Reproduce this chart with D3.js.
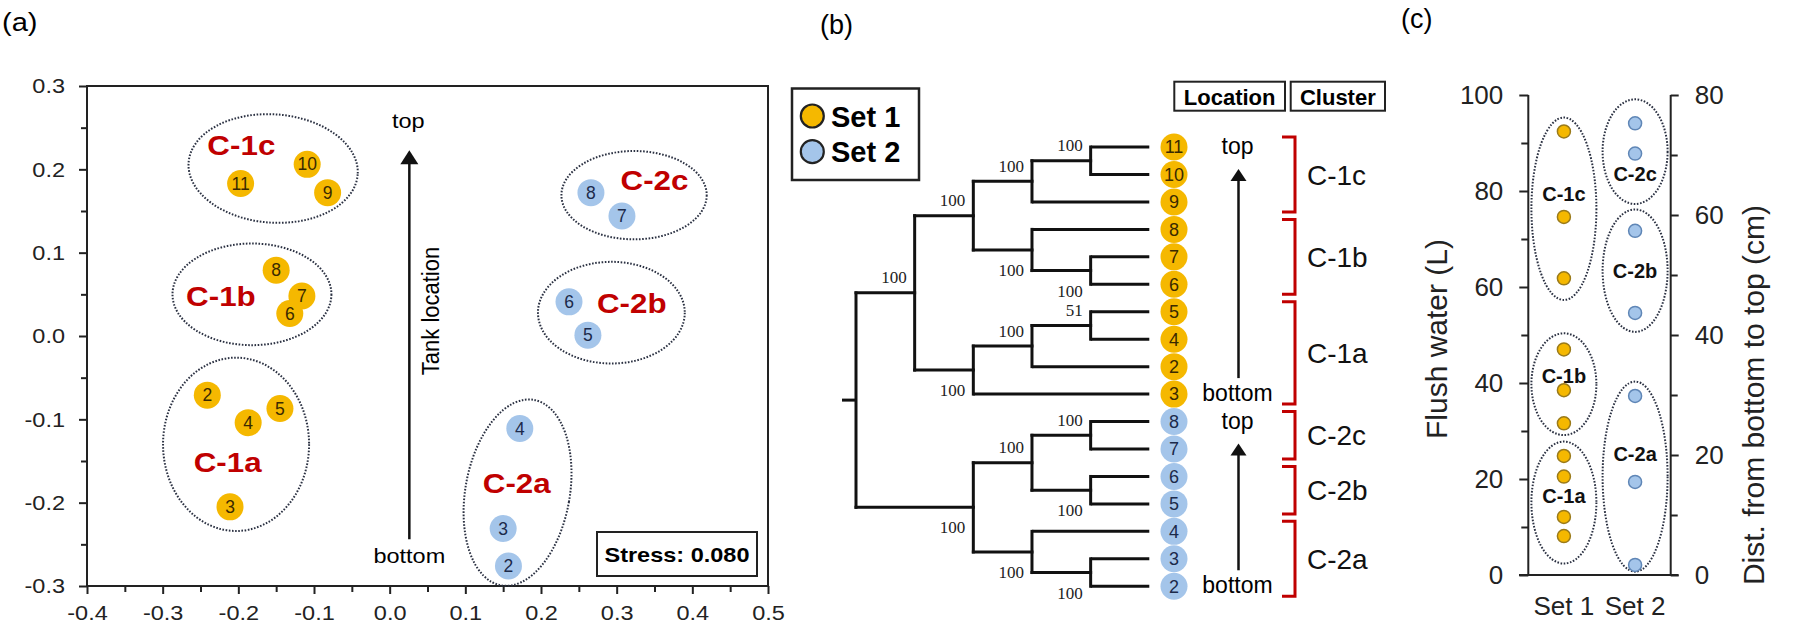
<!DOCTYPE html>
<html><head><meta charset="utf-8">
<script src="https://cdn.jsdelivr.net/npm/d3@7"></script>
<style>
body{margin:0;background:#fff}
.sx{transform-box:fill-box;transform:scaleX(1.12)}
.sx.m{transform-origin:center}.sx.e{transform-origin:right}.sx.s{transform-origin:left}
</style></head><body>
<svg id="c" width="1800" height="629" font-family='"Liberation Sans",Arial,sans-serif'></svg>
<script>
// ================= DATA =================
// Panel (a) NMDS
const set1Ids = [2,3,4,5,6,7,8,9,10,11];
const set1X = [-0.241,-0.211,-0.187,-0.145,-0.132,-0.116,-0.150,-0.082,-0.109,-0.197];
const set1Y = [-0.071,-0.205,-0.104,-0.087,0.027,0.048,0.079,0.172,0.206,0.183];
const set2Ids = [2,3,4,5,6,7,8];
const set2X = [0.157,0.150,0.172,0.262,0.237,0.307,0.266];
const set2Y = [-0.276,-0.231,-0.111,0.001,0.041,0.144,0.172];
const xTicksA = [-0.4,-0.3,-0.2,-0.1,0.0,0.1,0.2,0.3,0.4,0.5];
const xTickLabelsA = ["-0.4","-0.3","-0.2","-0.1","0.0","0.1","0.2","0.3","0.4","0.5"];
const xMinorA = [-0.35,-0.25,-0.15,-0.05,0.05,0.15,0.25,0.35,0.45];
const yTicksA = [-0.3,-0.2,-0.1,0.0,0.1,0.2,0.3];
const yTickLabelsA = ["-0.3","-0.2","-0.1","0.0","0.1","0.2","0.3"];
const yMinorA = [-0.25,-0.15,-0.05,0.05,0.15,0.25];
const clusterNames = ["C-1c","C-1b","C-1a","C-2c","C-2b","C-2a"];
const ellCxA = [-0.154,-0.182,-0.203,0.323,0.293,0.169];
const ellCyA = [0.201,0.050,-0.130,0.169,0.028,-0.188];
const ellRxA = [0.112,0.105,0.0965,0.096,0.097,0.069];
const ellRyA = [0.065,0.061,0.104,0.053,0.061,0.113];
const ellRotA = [4,0,0,0,0,10];
const lblXA = [-0.196,-0.223,-0.214,0.350,0.320,0.168];
const lblYA = [0.229,0.048,-0.152,0.187,0.039,-0.177];
const arrowA = [0.026,-0.244,0.223];   // x, y from, y to
const stressText = "Stress: 0.080";

// Panel (b) dendrogram
const legendLabels = ["Set 1","Set 2"];
const tree = {c:[
  {bs:100,p:"a",c:[
    {bs:100,p:"a",c:[
      {bs:100,p:"a",c:[{bs:100,p:"a",c:[{id:11,s:1},{id:10,s:1}]},{id:9,s:1}]},
      {bs:100,p:"b",c:[{id:8,s:1},{bs:100,p:"b",c:[{id:7,s:1},{id:6,s:1}]}]}
    ]},
    {bs:100,p:"b",c:[
      {bs:100,p:"a",c:[{bs:51,p:"a",c:[{id:5,s:1},{id:4,s:1}]},{id:2,s:1}]},
      {id:3,s:1}
    ]}
  ]},
  {bs:100,p:"b",c:[
    {bs:100,p:"a",c:[{bs:100,p:"a",c:[{id:8,s:2},{id:7,s:2}]},{bs:100,p:"b",c:[{id:6,s:2},{id:5,s:2}]}]},
    {bs:100,p:"b",c:[{id:4,s:2},{bs:100,p:"b",c:[{id:3,s:2},{id:2,s:2}]}]}
  ]}
]};
const clusterFirstLeaf = [0,3,6,10,12,14];
const clusterLastLeaf  = [2,5,9,11,13,16];
const locationRuns = [[0,9],[10,16]];
const headerLabels = ["Location","Cluster"];

// Panel (c)
const catsC = ["Set 1","Set 2"];
const flushSet1 = [92.4,74.6,61.8,47.0,38.5,31.6,24.8,20.5,12.1,8.1];
const flushSet2 = [94.1,87.8,71.7,54.6,37.3,19.4,2.1];
const leftTicksC = [0,20,40,60,80,100];
const leftMinorC = [10,30,50,70,90];
const rightTicksC = [0,20,40,60,80];
const rightMinorC = [10,30,50,70];
const clusterSetC = ["Set 1","Set 1","Set 1","Set 2","Set 2","Set 2"];
const ellCyC = [76.3,39.75,15.1,88.2,63.4,20.5];
const ellRyC = [19.0,10.6,12.7,10.9,12.75,19.8];
const lblYC = [79.4,41.5,16.5,83.5,63.3,25.2];
const leftTitleC = "Flush water (L)";
const rightTitleC = "Dist. from bottom to top (cm)";

// ================= STYLE =================
const YEL = "#F5B800", BLU = "#A4C5EA", RED = "#C00000", DOT = "#2b3142";
const SANS = '"Liberation Sans",Arial,sans-serif';
const svg = d3.select("#c");

// ================= PANEL (a) =================
const xA = d3.scaleLinear().domain([-0.4,0.5]).range([87,768]);
const yA = d3.scaleLinear().domain([-0.3,0.3]).range([586,86]);
const gA = svg.append("g");
svg.append("text").attr("x",2).attr("y",31).attr("font-size",26).attr("class","sx s").text("(a)");

function styleAxis(g, fs){
  g.selectAll("path.domain").remove();
  g.selectAll("line").attr("stroke","#222").attr("stroke-width",2);
  g.selectAll("text").attr("font-size",fs).attr("fill","#222").attr("font-family",SANS);
}
gA.append("g").attr("transform","translate(0,586)")
  .call(d3.axisBottom(xA).tickValues(xMinorA).tickSize(6).tickFormat("")).call(g=>styleAxis(g,21));
gA.append("g").attr("transform","translate(87,0)")
  .call(d3.axisLeft(yA).tickValues(yMinorA).tickSize(6).tickFormat("")).call(g=>styleAxis(g,21));
const axXA = gA.append("g").attr("transform","translate(0,586)")
  .call(d3.axisBottom(xA).tickValues(xTicksA).tickSize(8).tickPadding(11).tickFormat((d,i)=>xTickLabelsA[i]))
  .call(g=>styleAxis(g,21));
axXA.selectAll("text").attr("class","sx m");
const axYA = gA.append("g").attr("transform","translate(87,0)")
  .call(d3.axisLeft(yA).tickValues(yTicksA).tickSize(8).tickPadding(14).tickFormat((d,i)=>yTickLabelsA[i]))
  .call(g=>styleAxis(g,21));
axYA.selectAll("text").attr("class","sx e");
gA.append("rect").attr("x",xA(-0.4)).attr("y",yA(0.3))
  .attr("width",xA(0.5)-xA(-0.4)).attr("height",yA(-0.3)-yA(0.3))
  .attr("fill","none").attr("stroke","#222").attr("stroke-width",2);

// ellipses
clusterNames.forEach((n,i)=>{
  const cx=xA(ellCxA[i]), cy=yA(ellCyA[i]);
  gA.append("ellipse").attr("cx",0).attr("cy",0)
    .attr("rx",xA(ellRxA[i])-xA(0)).attr("ry",yA(0)-yA(ellRyA[i]))
    .attr("transform",`translate(${cx},${cy}) rotate(${ellRotA[i]})`)
    .attr("fill","none").attr("stroke",DOT).attr("stroke-width",2).attr("stroke-dasharray","1.6 1.6");
  gA.append("text").attr("class","sx m").attr("x",xA(lblXA[i])).attr("y",yA(lblYA[i])).attr("dy","0.35em")
    .attr("text-anchor","middle").attr("font-size",28).attr("font-weight","bold").attr("fill",RED).text(n);
});

// arrow
const ax = xA(arrowA[0]);
gA.append("line").attr("x1",ax).attr("x2",ax).attr("y1",yA(arrowA[1])).attr("y2",yA(arrowA[2])+12)
  .attr("stroke","#111").attr("stroke-width",2.5);
gA.append("path").attr("d",`M${ax},${yA(arrowA[2])} l-9,14 l18,0 z`).attr("fill","#111");
gA.append("text").attr("class","sx m").attr("x",ax-1).attr("y",yA(arrowA[2])-22).attr("text-anchor","middle")
  .attr("font-size",21).text("top");
gA.append("text").attr("class","sx m").attr("x",ax).attr("y",yA(arrowA[1])+24).attr("text-anchor","middle")
  .attr("font-size",21).text("bottom");
gA.append("text").attr("transform",`translate(${ax+30},${yA(0.03)}) rotate(-90) scale(1,1.12)`)
  .attr("text-anchor","middle").attr("font-size",22).text("Tank location");

// points
function ptsA(ids, xs, ys, fill, tcol){
  const order = d3.range(ids.length).reverse();
  order.forEach(i=>{
    const g = gA.append("g").attr("transform",`translate(${xA(xs[i])},${yA(ys[i])})`);
    g.append("circle").attr("r",13.5).attr("fill",fill);
    g.append("text").attr("text-anchor","middle").attr("dy","0.35em").attr("font-size",17.5)
      .attr("fill",tcol).text(ids[i]);
  });
}
ptsA(set1Ids,set1X,set1Y,YEL,"#3a2a00");
ptsA(set2Ids,set2X,set2Y,BLU,"#1c2a4a");

// stress box
gA.append("rect").attr("x",597).attr("y",532).attr("width",160).attr("height",44)
  .attr("fill","#fff").attr("stroke","#222").attr("stroke-width",2);
gA.append("text").attr("class","sx m").attr("x",677).attr("y",562).attr("text-anchor","middle")
  .attr("font-size",21).attr("font-weight","bold").text(stressText);

// ================= PANEL (b) =================
const gB = svg.append("g");
svg.append("text").attr("x",820).attr("y",34).attr("font-size",27).text("(b)");
// legend
gB.append("rect").attr("x",792).attr("y",88.5).attr("width",127).attr("height",91.5)
  .attr("fill","#fff").attr("stroke","#222").attr("stroke-width",2.5);
legendLabels.forEach((l,i)=>{
  const y = 116 + i*35.7;
  gB.append("circle").attr("cx",812.3).attr("cy",y).attr("r",11.5).attr("fill",i?BLU:YEL)
    .attr("stroke","#222").attr("stroke-width",2.2);
  gB.append("text").attr("x",831).attr("y",y+10.5).attr("font-size",29).attr("font-weight","bold").text(l);
});

const root = d3.hierarchy(tree, d=>d.c);
d3.cluster().size([1,1]).separation(()=>1)(root);
const yB = d3.scaleLinear().domain([0,1]).range([133.3,600]);
const xB = d3.scaleLinear().domain([0,1]).range([856,1149.3]);
const lineCol = "#111";
root.descendants().forEach(n=>{
  if(n.children){
    const ys = n.children.map(c=>yB(c.x));
    gB.append("line").attr("x1",xB(n.y)).attr("x2",xB(n.y)).attr("y1",d3.min(ys)).attr("y2",d3.max(ys))
      .attr("stroke",lineCol).attr("stroke-width",3).attr("stroke-linecap","square");
  }
  if(n.parent){
    gB.append("line").attr("x1",xB(n.parent.y)).attr("x2",xB(n.y)).attr("y1",yB(n.x)).attr("y2",yB(n.x))
      .attr("stroke",lineCol).attr("stroke-width",3).attr("stroke-linecap",n.children?"square":"butt");
  }
  if(n.data.bs){
    const ty = n.data.p==="a" ? yB(n.x)-9.5 : yB(n.x)+26;
    gB.append("text").attr("x",xB(n.y)-8).attr("y",ty).attr("text-anchor","end")
      .attr("font-family",'"Liberation Serif","DejaVu Serif",serif').attr("font-size",17).attr("fill","#222")
      .text(n.data.bs);
  }
});
gB.append("line").attr("x1",xB(0)-14).attr("x2",xB(0)).attr("y1",yB(root.x)).attr("y2",yB(root.x))
  .attr("stroke",lineCol).attr("stroke-width",3);
const leaves = root.leaves();
leaves.forEach(l=>{
  const g = gB.append("g").attr("transform",`translate(${xB(1)+24.7},${yB(l.x)})`);
  g.append("circle").attr("r",13.5).attr("fill",l.data.s===1?YEL:BLU);
  g.append("text").attr("text-anchor","middle").attr("dy","0.35em").attr("font-size",18)
    .attr("fill",l.data.s===1?"#3a2a00":"#1c2a4a").text(l.data.id);
});
// headers
[[1174.3,110.7],[1290.7,94.3]].forEach((b,i)=>{
  gB.append("rect").attr("x",b[0]).attr("y",81.7).attr("width",b[1]).attr("height",29)
    .attr("fill","#fff").attr("stroke","#222").attr("stroke-width",2);
  gB.append("text").attr("x",b[0]+b[1]/2).attr("y",104.5).attr("text-anchor","middle")
    .attr("font-size",22).attr("font-weight","bold").text(headerLabels[i]);
});
// location arrows
const locX = 1237.5;
locationRuns.forEach(r=>{
  const y0 = yB(leaves[r[0]].x), y1 = yB(leaves[r[1]].x);
  gB.append("text").attr("x",locX).attr("y",y0+7).attr("text-anchor","middle").attr("font-size",23).text("top");
  gB.append("text").attr("x",locX).attr("y",y1+7).attr("text-anchor","middle").attr("font-size",23).text("bottom");
  gB.append("line").attr("x1",locX+1).attr("x2",locX+1).attr("y1",y0+32).attr("y2",y1-16)
    .attr("stroke","#111").attr("stroke-width",2.5);
  gB.append("path").attr("d",`M${locX+1},${y0+22} l-8,12 l16,0 z`).attr("fill","#111");
});
// cluster brackets
clusterNames.forEach((n,i)=>{
  const ya = yB(leaves[clusterFirstLeaf[i]].x)-10, yb = yB(leaves[clusterLastLeaf[i]].x)+10;
  gB.append("path").attr("d",`M1282,${ya} H1295 V${yb} H1282`).attr("fill","none")
    .attr("stroke",RED).attr("stroke-width",3);
  gB.append("text").attr("x",1307).attr("y",(ya+yb)/2).attr("dy","0.36em").attr("font-size",28)
    .attr("fill","#111").text(n);
});

// ================= PANEL (c) =================
const gC = svg.append("g");
svg.append("text").attr("x",1401).attr("y",27.5).attr("font-size",27).text("(c)");
const xC = d3.scalePoint().domain(catsC).range([1528.3,1670.7]).padding(0.5);
const yC = d3.scaleLinear().domain([0,100]).range([575,95]);
const yC2 = d3.scaleLinear().domain([0,80]).range([575,95]);
gC.append("g").attr("transform","translate(1528.3,0)")
  .call(d3.axisLeft(yC).tickValues(leftMinorC).tickSize(7).tickFormat("")).call(g=>styleAxis(g,26));
gC.append("g").attr("transform","translate(1528.3,0)")
  .call(d3.axisLeft(yC).tickValues(leftTicksC).tickSize(9).tickPadding(16)).call(g=>styleAxis(g,26));
gC.append("g").attr("transform","translate(1670.7,0)")
  .call(d3.axisRight(yC2).tickValues(rightMinorC).tickSize(7).tickFormat("")).call(g=>styleAxis(g,26));
gC.append("g").attr("transform","translate(1670.7,0)")
  .call(d3.axisRight(yC2).tickValues(rightTicksC).tickSize(8).tickPadding(16)).call(g=>styleAxis(g,26));
gC.append("line").attr("x1",1528.3).attr("x2",1528.3).attr("y1",yC(100)).attr("y2",yC(0)).attr("stroke","#222").attr("stroke-width",2);
gC.append("line").attr("x1",1670.7).attr("x2",1670.7).attr("y1",yC(100)).attr("y2",yC(0)).attr("stroke","#222").attr("stroke-width",2);
gC.append("line").attr("x1",1519).attr("x2",1678.5).attr("y1",yC(0)).attr("y2",yC(0)).attr("stroke","#222").attr("stroke-width",2);
catsC.forEach(c=>{
  gC.append("text").attr("x",xC(c)).attr("y",615).attr("text-anchor","middle").attr("font-size",26).attr("fill","#222").text(c);
});
gC.append("text").attr("transform",`translate(1447,${yC(50)+4}) rotate(-90)`).attr("text-anchor","middle")
  .attr("font-size",30).attr("fill","#222").text(leftTitleC);
gC.append("text").attr("transform",`translate(1764,${yC2(30)}) rotate(-90)`).attr("text-anchor","middle")
  .attr("font-size",30).attr("fill","#222").text(rightTitleC);
// ellipses
clusterNames.forEach((n,i)=>{
  gC.append("ellipse").attr("cx",xC(clusterSetC[i])).attr("cy",yC(ellCyC[i]))
    .attr("rx",32.5).attr("ry",yC(0)-yC(ellRyC[i]))
    .attr("fill","none").attr("stroke",DOT).attr("stroke-width",2).attr("stroke-dasharray","1.6 1.6");
});
// points
flushSet1.forEach(v=>{
  gC.append("circle").attr("cx",xC("Set 1")).attr("cy",yC(v)).attr("r",6.5)
    .attr("fill",YEL).attr("stroke","#9a7a1a").attr("stroke-width",1.5);
});
flushSet2.forEach(v=>{
  gC.append("circle").attr("cx",xC("Set 2")).attr("cy",yC(v)).attr("r",6.5)
    .attr("fill",BLU).attr("stroke","#5f86b6").attr("stroke-width",1.5);
});
clusterNames.forEach((n,i)=>{
  gC.append("text").attr("x",xC(clusterSetC[i])).attr("y",yC(lblYC[i])).attr("dy","0.36em")
    .attr("text-anchor","middle").attr("font-size",20).attr("font-weight","bold").attr("fill","#111").text(n);
});
</script></body></html>
